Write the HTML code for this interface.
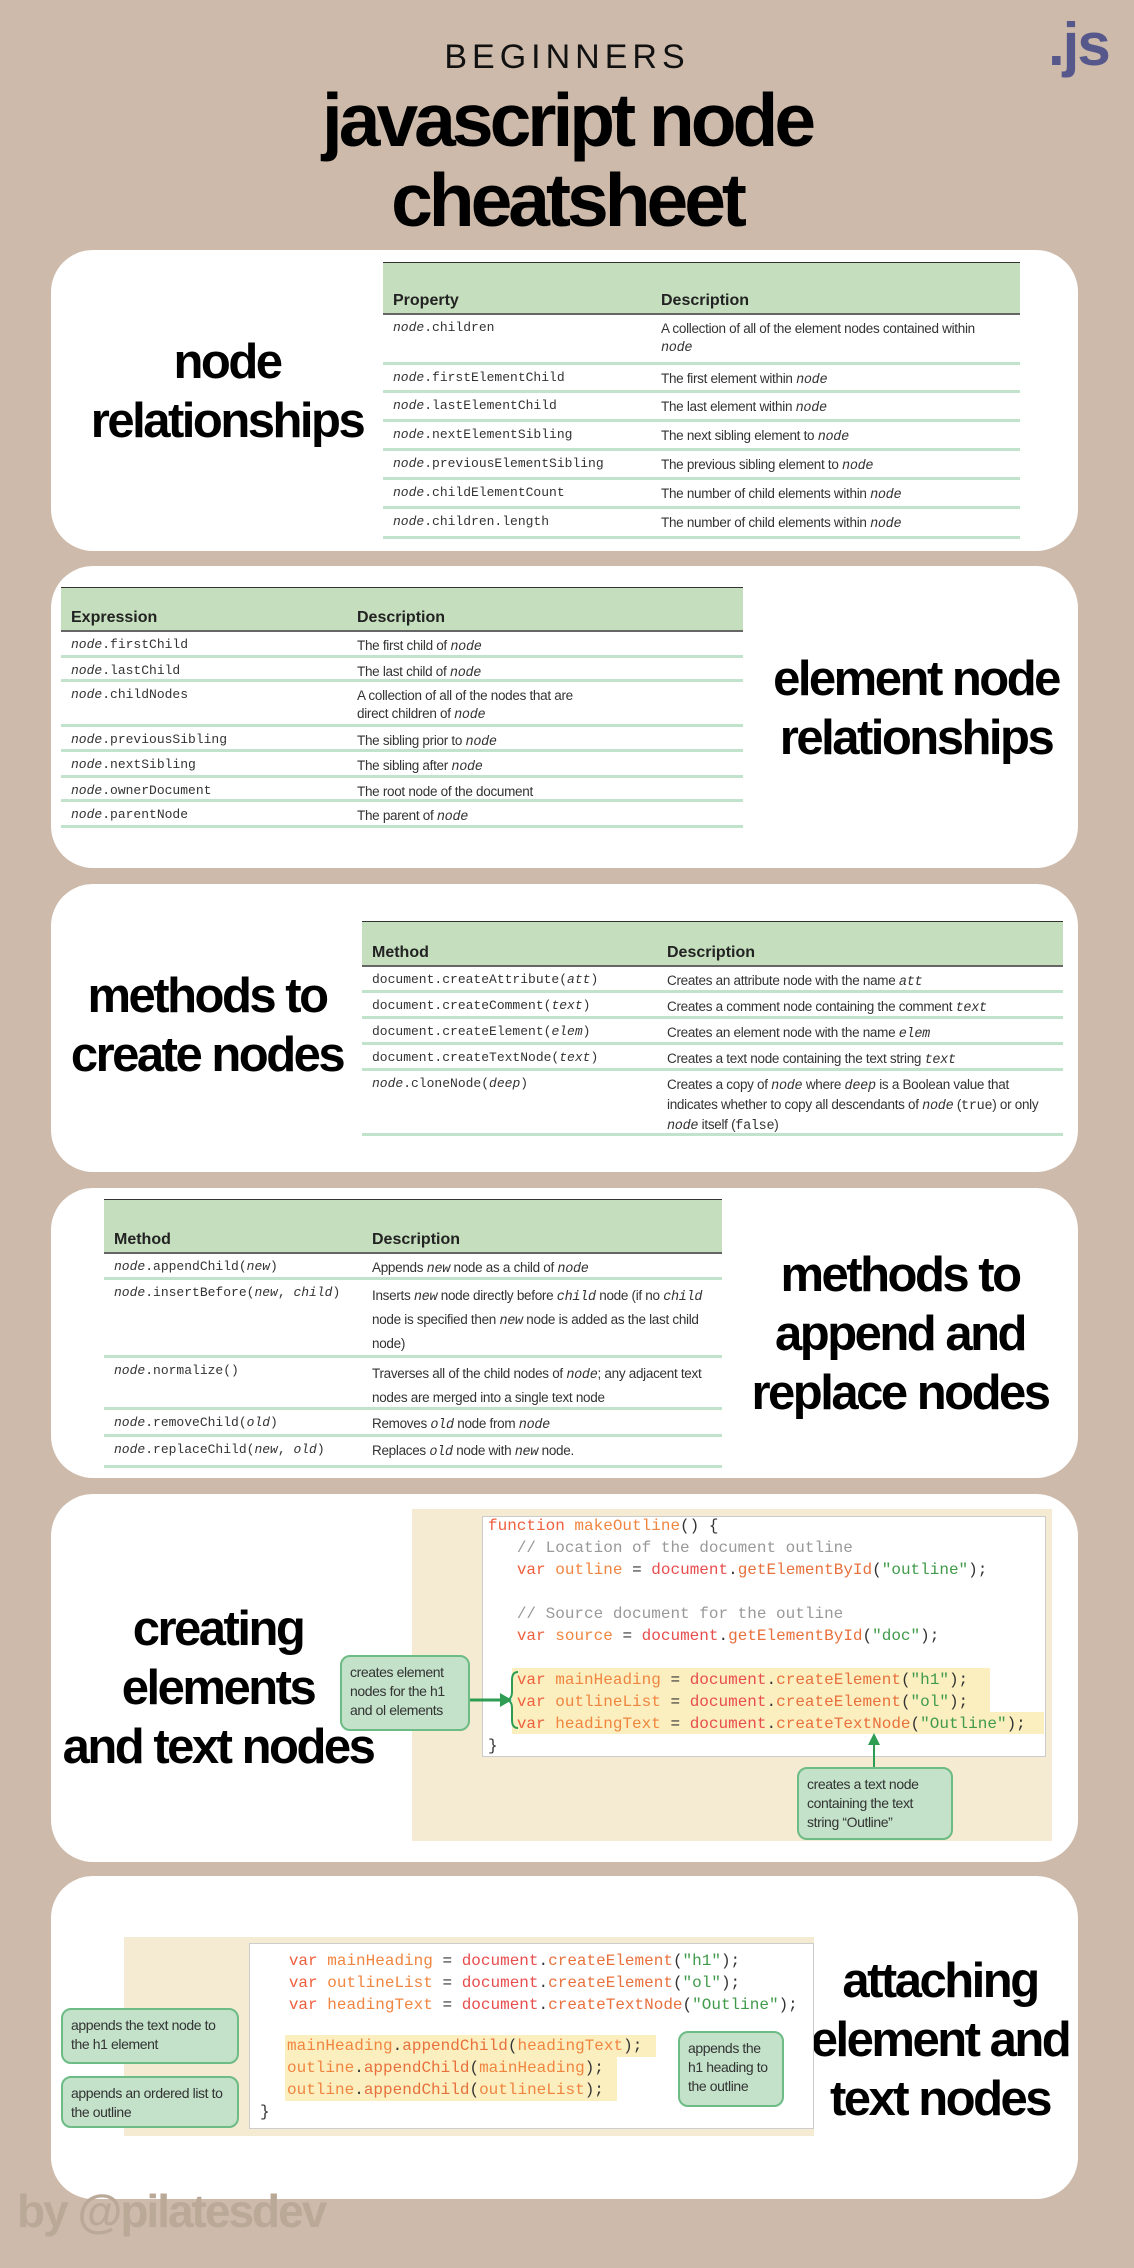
<!DOCTYPE html>
<html><head><meta charset="utf-8"><style>
*{margin:0;padding:0;box-sizing:border-box}
body{width:1134px;height:2268px;background:#cdbaaa;position:relative;overflow:hidden;font-family:"Liberation Sans",sans-serif;color:#111}
.abs{position:absolute}
.card{position:absolute;left:51px;width:1027px;background:#fff;border-radius:42px}
.lab{position:absolute;font-weight:bold;text-align:center;font-size:49px;letter-spacing:-2.5px;line-height:59px;color:#000;transform:translateX(-50%);white-space:nowrap}
.tbl{position:absolute;border-top:1.5px solid #333;font-size:13px;color:#333}
.hd{background:#c5dfbe;border-bottom:2px solid #666;position:relative;font-weight:bold;font-size:16px;color:#222}
.hd span{position:absolute;bottom:3px}
.r{position:relative;border-bottom:3px solid #c2e3cb}
.r .a{position:absolute;top:5px;font-family:"Liberation Mono",monospace;font-size:13px;color:#333;white-space:nowrap}
.r .b{position:absolute;top:5px;line-height:18px;font-size:13.5px;color:#333;letter-spacing:-0.3px}
i{font-family:"Liberation Mono",monospace;font-style:italic}
.code{position:absolute;font-family:"Liberation Mono",monospace;font-size:16px;white-space:pre;line-height:22px}
.k{color:#ee5f3c}.v{color:#f08540}.d{color:#e84d4d}.m{color:#e8703c}.s{color:#3f9a4a}.c{color:#999}.p{color:#333}
.note{position:absolute;background:#c3e2c9;border:2px solid #6dbb85;border-radius:10px;font-size:14px;line-height:19px;color:#333;padding:6px 8px;letter-spacing:-0.4px}
.hl{position:absolute;background:#fbefc0}
</style></head><body>

<div class="abs" style="left:0;width:1134px;top:38px;text-align:center;font-size:34px;letter-spacing:5px;font-weight:300;color:#111">BEGINNERS</div>
<div class="abs" style="left:0;width:1134px;top:80px;text-align:center;font-size:75px;font-weight:bold;letter-spacing:-4px;line-height:80px;color:#000">javascript node<br>cheatsheet</div>
<div class="abs" style="left:1048px;top:10px;font-size:60px;font-weight:bold;color:#56578a;letter-spacing:-2px">.js</div>

<!-- card 1 -->
<div class="card" style="top:250px;height:301px"></div>
<div class="lab" style="left:227px;top:333px">node<br>relationships</div>
<div class="tbl" style="left:383px;top:262px;width:637px">
 <div class="hd" style="height:52px"><span style="left:10px">Property</span><span style="left:278px">Description</span></div>
 <div class="r" style="height:50px"><div class="a" style="left:10px"><i>node</i>.children</div><div class="b" style="left:278px;width:325px">A collection of all of the element nodes contained within <i>node</i></div></div>
 <div class="r" style="height:28px"><div class="a" style="left:10px"><i>node</i>.firstElementChild</div><div class="b" style="left:278px">The first element within <i>node</i></div></div>
 <div class="r" style="height:29px"><div class="a" style="left:10px"><i>node</i>.lastElementChild</div><div class="b" style="left:278px">The last element within <i>node</i></div></div>
 <div class="r" style="height:29px"><div class="a" style="left:10px"><i>node</i>.nextElementSibling</div><div class="b" style="left:278px">The next sibling element to <i>node</i></div></div>
 <div class="r" style="height:29px"><div class="a" style="left:10px"><i>node</i>.previousElementSibling</div><div class="b" style="left:278px">The previous sibling element to <i>node</i></div></div>
 <div class="r" style="height:29px"><div class="a" style="left:10px"><i>node</i>.childElementCount</div><div class="b" style="left:278px">The number of child elements within <i>node</i></div></div>
 <div class="r" style="height:30px"><div class="a" style="left:10px"><i>node</i>.children.length</div><div class="b" style="left:278px">The number of child elements within <i>node</i></div></div>
</div>

<!-- card 2 -->
<div class="card" style="top:566px;height:302px"></div>
<div class="lab" style="left:916px;top:650px">element node<br>relationships</div>
<div class="tbl" style="left:61px;top:587px;width:682px">
 <div class="hd" style="height:44px"><span style="left:10px">Expression</span><span style="left:296px">Description</span></div>
 <div class="r" style="height:26px"><div class="a" style="left:10px"><i>node</i>.firstChild</div><div class="b" style="left:296px">The first child of <i>node</i></div></div>
 <div class="r" style="height:24px"><div class="a" style="left:10px"><i>node</i>.lastChild</div><div class="b" style="left:296px">The last child of <i>node</i></div></div>
 <div class="r" style="height:45px"><div class="a" style="left:10px"><i>node</i>.childNodes</div><div class="b" style="left:296px;width:250px">A collection of all of the nodes that are direct children of <i>node</i></div></div>
 <div class="r" style="height:25px"><div class="a" style="left:10px"><i>node</i>.previousSibling</div><div class="b" style="left:296px">The sibling prior to <i>node</i></div></div>
 <div class="r" style="height:26px"><div class="a" style="left:10px"><i>node</i>.nextSibling</div><div class="b" style="left:296px">The sibling after <i>node</i></div></div>
 <div class="r" style="height:24px"><div class="a" style="left:10px"><i>node</i>.ownerDocument</div><div class="b" style="left:296px">The root node of the document</div></div>
 <div class="r" style="height:26px"><div class="a" style="left:10px"><i>node</i>.parentNode</div><div class="b" style="left:296px">The parent of <i>node</i></div></div>
</div>

<!-- card 3 -->
<div class="card" style="top:884px;height:288px"></div>
<div class="lab" style="left:207px;top:967px">methods to<br>create nodes</div>
<div class="tbl" style="left:362px;top:921px;width:701px">
 <div class="hd" style="height:45px"><span style="left:10px">Method</span><span style="left:305px">Description</span></div>
 <div class="r" style="height:26px"><div class="a" style="left:10px">document.createAttribute(<i>att</i>)</div><div class="b" style="left:305px">Creates an attribute node with the name <i>att</i></div></div>
 <div class="r" style="height:26px"><div class="a" style="left:10px">document.createComment(<i>text</i>)</div><div class="b" style="left:305px">Creates a comment node containing the comment <i>text</i></div></div>
 <div class="r" style="height:26px"><div class="a" style="left:10px">document.createElement(<i>elem</i>)</div><div class="b" style="left:305px">Creates an element node with the name <i>elem</i></div></div>
 <div class="r" style="height:26px"><div class="a" style="left:10px">document.createTextNode(<i>text</i>)</div><div class="b" style="left:305px">Creates a text node containing the text string <i>text</i></div></div>
 <div class="r" style="height:65px"><div class="a" style="left:10px"><i>node</i>.cloneNode(<i>deep</i>)</div><div class="b" style="left:305px;width:385px">Creates a copy of <i>node</i> where <i>deep</i> is a Boolean value that indicates whether to copy all descendants of <i>node</i> (<span style="font-family:'Liberation Mono'">true</span>) or only <i>node</i> itself (<span style="font-family:'Liberation Mono'">false</span>)</div></div>
</div>

<!-- card 4 -->
<div class="card" style="top:1188px;height:290px"></div>
<div class="lab" style="left:900px;top:1246px">methods to<br>append and<br>replace nodes</div>
<div class="tbl" style="left:104px;top:1199px;width:618px">
 <div class="hd" style="height:54px"><span style="left:10px">Method</span><span style="left:268px">Description</span></div>
 <div class="r" style="height:26px"><div class="a" style="left:10px"><i>node</i>.appendChild(<i>new</i>)</div><div class="b" style="left:268px">Appends <i>new</i> node as a child of <i>node</i></div></div>
 <div class="r" style="height:78px"><div class="a" style="left:10px"><i>node</i>.insertBefore(<i>new</i>, <i>child</i>)</div><div class="b" style="left:268px;width:340px;line-height:22px">Inserts <i>new</i> node directly before <i>child</i> node (if no <i>child</i> node is specified then <i>new</i> node is added as the last child node)</div></div>
 <div class="r" style="height:52px"><div class="a" style="left:10px"><i>node</i>.normalize()</div><div class="b" style="left:268px;width:340px;line-height:22px">Traverses all of the child nodes of <i>node</i>; any adjacent text nodes are merged into a single text node</div></div>
 <div class="r" style="height:27px"><div class="a" style="left:10px"><i>node</i>.removeChild(<i>old</i>)</div><div class="b" style="left:268px">Removes <i>old</i> node from <i>node</i></div></div>
 <div class="r" style="height:31px"><div class="a" style="left:10px"><i>node</i>.replaceChild(<i>new</i>, <i>old</i>)</div><div class="b" style="left:268px">Replaces <i>old</i> node with <i>new</i> node.</div></div>
</div>

<!-- card 5 -->
<div class="card" style="top:1494px;height:368px"></div>
<div class="lab" style="left:218px;top:1600px">creating<br>elements<br>and text nodes</div>
<div class="abs" style="left:412px;top:1509px;width:640px;height:332px;background:#f5ebd3"></div>
<div class="abs" style="left:482px;top:1516px;width:564px;height:241px;background:#fff;border:1px solid #ccc"></div>
<div class="hl" style="left:512px;top:1668px;width:478px;height:44px"></div>
<div class="hl" style="left:512px;top:1712px;width:532px;height:22px"></div>
<div class="code" style="left:488px;top:1515px"><span class="k">function</span> <span class="v">makeOutline</span><span class="p">() {</span>
   <span class="c">// Location of the document outline</span>
   <span class="k">var</span> <span class="v">outline</span> <span class="p">=</span> <span class="d">document</span><span class="p">.</span><span class="m">getElementById</span><span class="p">(</span><span class="s">"outline"</span><span class="p">);</span>

   <span class="c">// Source document for the outline</span>
   <span class="k">var</span> <span class="v">source</span> <span class="p">=</span> <span class="d">document</span><span class="p">.</span><span class="m">getElementById</span><span class="p">(</span><span class="s">"doc"</span><span class="p">);</span>

   <span class="k">var</span> <span class="v">mainHeading</span> <span class="p">=</span> <span class="d">document</span><span class="p">.</span><span class="m">createElement</span><span class="p">(</span><span class="s">"h1"</span><span class="p">);</span>
   <span class="k">var</span> <span class="v">outlineList</span> <span class="p">=</span> <span class="d">document</span><span class="p">.</span><span class="m">createElement</span><span class="p">(</span><span class="s">"ol"</span><span class="p">);</span>
   <span class="k">var</span> <span class="v">headingText</span> <span class="p">=</span> <span class="d">document</span><span class="p">.</span><span class="m">createTextNode</span><span class="p">(</span><span class="s">"Outline"</span><span class="p">);</span>
<span class="p">}</span></div>
<div class="note" style="left:340px;top:1655px;width:130px;height:76px">creates element nodes for the h1 and ol elements</div>
<div class="note" style="left:797px;top:1767px;width:156px;height:73px">creates a text node containing the text string “Outline”</div>
<svg class="abs" style="left:0;top:0" width="1134" height="2268">
 <path d="M518 1672 q-6 0 -6 8 v12 q0 6 -4 8 q4 2 4 8 v12 q0 8 6 8" fill="none" stroke="#2e9c52" stroke-width="2"/>
 <line x1="470" y1="1700" x2="500" y2="1700" stroke="#2e9c52" stroke-width="3"/>
 <polygon points="500,1693 512,1700 500,1707" fill="#2e9c52"/>
 <line x1="874" y1="1767" x2="874" y2="1742" stroke="#2e9c52" stroke-width="2"/>
 <polygon points="868,1745 874,1733 880,1745" fill="#2e9c52"/>
 <line x1="239" y1="2047" x2="276" y2="2047" stroke="#2e9c52" stroke-width="3"/>
 <polygon points="274,2041 286,2047 274,2053" fill="#2e9c52"/>
 <line x1="239" y1="2093" x2="276" y2="2093" stroke="#2e9c52" stroke-width="3"/>
 <polygon points="274,2087 286,2093 274,2099" fill="#2e9c52"/>
 <line x1="678" y1="2070" x2="625" y2="2070" stroke="#2e9c52" stroke-width="3"/>
 <polygon points="627,2064 615,2070 627,2076" fill="#2e9c52"/>
</svg>

<!-- card 6 -->
<div class="card" style="top:1876px;height:323px"></div>
<div class="lab" style="left:940px;top:1952px">attaching<br>element and<br>text nodes</div>
<div class="abs" style="left:124px;top:1937px;width:690px;height:199px;background:#f5ebd3"></div>
<div class="abs" style="left:249px;top:1943px;width:565px;height:186px;background:#fff;border:1px solid #ccc"></div>
<div class="hl" style="left:285px;top:2035px;width:371px;height:22px"></div>
<div class="hl" style="left:285px;top:2057px;width:332px;height:44px"></div>
<div class="code" style="left:260px;top:1950px">   <span class="k">var</span> <span class="v">mainHeading</span> <span class="p">=</span> <span class="d">document</span><span class="p">.</span><span class="m">createElement</span><span class="p">(</span><span class="s">"h1"</span><span class="p">);</span>
   <span class="k">var</span> <span class="v">outlineList</span> <span class="p">=</span> <span class="d">document</span><span class="p">.</span><span class="m">createElement</span><span class="p">(</span><span class="s">"ol"</span><span class="p">);</span>
   <span class="k">var</span> <span class="v">headingText</span> <span class="p">=</span> <span class="d">document</span><span class="p">.</span><span class="m">createTextNode</span><span class="p">(</span><span class="s">"Outline"</span><span class="p">);</span>
</div>
<div class="code" style="left:287px;top:2035px"><span class="v">mainHeading</span><span class="p">.</span><span class="m">appendChild</span><span class="p">(</span><span class="v">headingText</span><span class="p">);</span>
<span class="v">outline</span><span class="p">.</span><span class="m">appendChild</span><span class="p">(</span><span class="v">mainHeading</span><span class="p">);</span>
<span class="v">outline</span><span class="p">.</span><span class="m">appendChild</span><span class="p">(</span><span class="v">outlineList</span><span class="p">);</span></div>
<div class="code" style="left:260px;top:2101px"><span class="p">}</span></div>
<div class="note" style="left:61px;top:2008px;width:178px;height:56px">appends the text node to the h1 element</div>
<div class="note" style="left:61px;top:2076px;width:178px;height:52px">appends an ordered list to the outline</div>
<div class="note" style="left:678px;top:2031px;width:106px;height:76px">appends the h1 heading to the outline</div>

<div class="abs" style="left:17px;top:2184px;font-size:46px;font-weight:bold;color:#bba998;letter-spacing:-2px">by @pilatesdev</div>
</body></html>
